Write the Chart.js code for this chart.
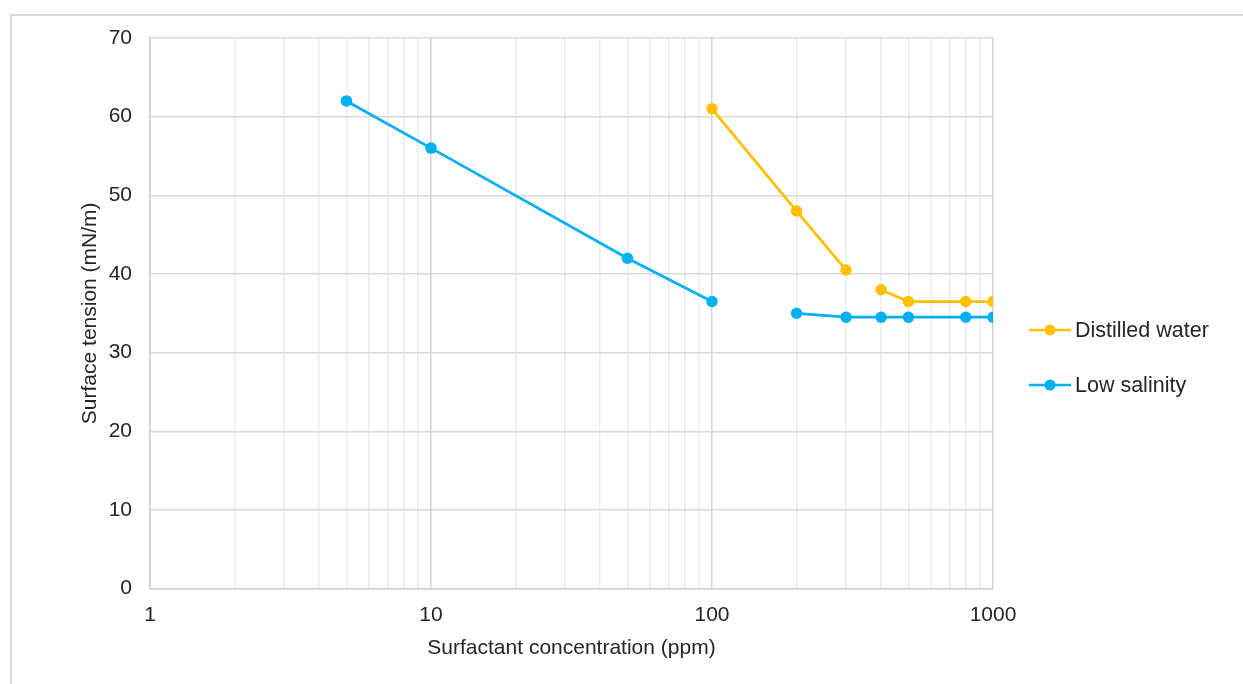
<!DOCTYPE html>
<html>
<head>
<meta charset="utf-8">
<script src="https://cdn.jsdelivr.net/npm/chart.js@4"></script>
<style>
  html, body { margin: 0; padding: 0; background: #fff; }
  #frame { position: absolute; left: 10px; top: 14px; width: 1250px; height: 690px; border: 2px solid #d9d9d9; box-sizing: border-box; }
  #wrap { position: absolute; left: 0; top: 0; width: 1243px; height: 684px; }
</style>
</head>
<body>
<div id="frame"></div>
<div id="wrap"><canvas id="chart"></canvas></div>
<script>
// concentrations (ppm) and surface tension (mN/m); null = break in the line
const distilledX = [100, 200, 300, 350, 400, 500, 800, 1000];
const distilledY = [61, 48, 40.5, null, 38, 36.5, 36.5, 36.5];
const salinityX = [5, 10, 50, 100, 150, 200, 300, 400, 500, 800, 1000];
const salinityY = [62, 56, 42, 36.5, null, 35, 34.5, 34.5, 34.5, 34.5, 34.5];

const seriesNames = ['Distilled water', 'Low salinity'];
const seriesColors = ['#FFC000', '#00B0F0'];

const xTickValues = [1, 2, 3, 4, 5, 6, 7, 8, 9, 10, 20, 30, 40, 50, 60, 70, 80, 90,
  100, 200, 300, 400, 500, 600, 700, 800, 900, 1000];
const xLabels = [1, 10, 100, 1000];

const toPoints = (xs, ys) => xs.map((x, i) => ({ x: x, y: ys[i] }));

const FONT = 'Liberation Sans, Arial, sans-serif';
const FS = 21;

// simple Excel-like legend on the right
const sideLegend = {
  id: 'sideLegend',
  afterDraw(chart) {
    const ctx = chart.ctx;
    const rows = [330, 385];
    ctx.save();
    chart.data.datasets.forEach((ds, i) => {
      const y = rows[i];
      ctx.strokeStyle = ds.borderColor;
      ctx.lineWidth = 2.5;
      ctx.beginPath();
      ctx.moveTo(1029, y);
      ctx.lineTo(1071, y);
      ctx.stroke();
      ctx.fillStyle = ds.borderColor;
      ctx.beginPath();
      ctx.arc(1050, y, 5.5, 0, Math.PI * 2);
      ctx.fill();
      ctx.fillStyle = '#262626';
      ctx.font = '21.5px ' + FONT;
      ctx.textBaseline = 'middle';
      ctx.textAlign = 'left';
      ctx.fillText(ds.label, 1075, y + 1);
    });
    ctx.restore();
  }
};

new Chart(document.getElementById('chart'), {
  type: 'scatter',
  data: {
    datasets: [
      {
        label: seriesNames[0],
        data: toPoints(distilledX, distilledY),
        borderColor: seriesColors[0],
        backgroundColor: seriesColors[0]
      },
      {
        label: seriesNames[1],
        data: toPoints(salinityX, salinityY),
        borderColor: seriesColors[1],
        backgroundColor: seriesColors[1]
      }
    ].map(d => Object.assign(d, {
      showLine: true,
      spanGaps: false,
      borderWidth: 2.75,
      pointRadius: 5.75,
      pointHoverRadius: 5.75,
      pointBorderWidth: 0
    }))
  },
  options: {
    responsive: true,
    maintainAspectRatio: false,
    animation: false,
    layout: { padding: { left: 78, right: 250, top: 38, bottom: 23 } },
    plugins: {
      legend: { display: false },
      tooltip: { enabled: false }
    },
    scales: {
      x: {
        type: 'logarithmic',
        min: 1,
        max: 1000,
        afterBuildTicks: s => { s.ticks = xTickValues.map(v => ({ value: v })); },
        ticks: {
          autoSkip: false,
          maxRotation: 0,
          padding: 14,
          color: '#262626',
          font: { family: FONT, size: FS },
          callback: v => xLabels.includes(v) ? String(v) : ''
        },
        grid: {
          drawTicks: false,
          lineWidth: 1.5,
          color: c => xLabels.includes(c.tick.value) ? '#d4d4d4' : '#ececec'
        },
        border: { color: '#d0d0d0', width: 1.5 },
        title: {
          display: true,
          text: 'Surfactant concentration (ppm)',
          color: '#262626',
          font: { family: FONT, size: FS },
          padding: { top: -6, bottom: 0 }
        }
      },
      y: {
        min: 0,
        max: 70,
        afterFit: s => { s.width = 72; },
        ticks: {
          stepSize: 10,
          padding: 18,
          color: '#262626',
          font: { family: FONT, size: FS }
        },
        grid: { drawTicks: false, color: '#d9d9d9', lineWidth: 1.5 },
        border: { color: '#d0d0d0', width: 1.5 },
        title: {
          display: true,
          text: 'Surface tension (mN/m)',
          color: '#262626',
          font: { family: FONT, size: FS },
          padding: { top: 0, bottom: 0 }
        }
      }
    }
  },
  plugins: [sideLegend]
});
</script>
</body>
</html>
